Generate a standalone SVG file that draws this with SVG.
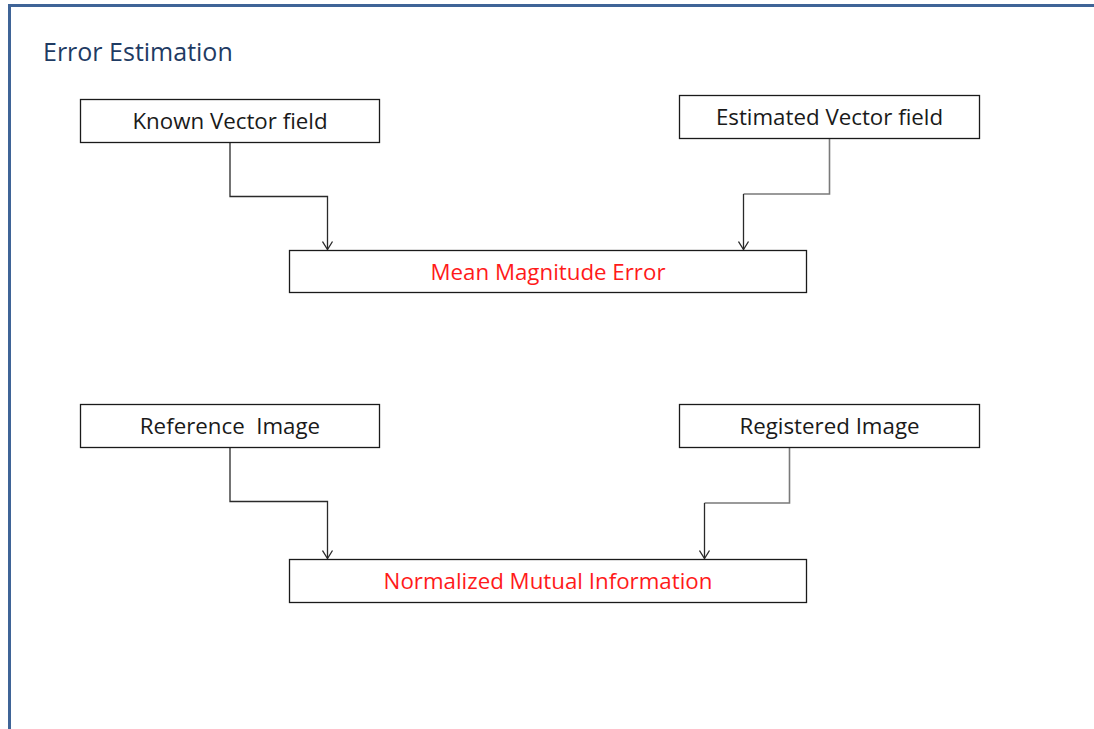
<svg xmlns="http://www.w3.org/2000/svg" width="1094" height="729" viewBox="0 0 1094 729">
  <style>
    .box { fill: #ffffff; stroke: #1a1a1a; stroke-width: 1.3; }
    .lbl { font-family: "Open Sans", "Liberation Sans", sans-serif; font-size: 22.3px; fill: #1a1a1a; text-anchor: middle; }
    .red { fill: #ff1a1a; }
    .wire { fill: none; stroke: #2a2a2a; stroke-width: 1.3; }
    .wire-g { fill: none; stroke: #7a7a7a; stroke-width: 1.6; }
  </style>
  <defs>
    <!-- open V arrowhead, drawn pointing along +x -->
    <marker id="arr" markerWidth="12" markerHeight="12" refX="10" refY="6" orient="auto" markerUnits="userSpaceOnUse" viewBox="0 0 12 12">
      <path d="M2,1 L10,6 L2,11" fill="none" stroke="#2a2a2a" stroke-width="1.3"/>
    </marker>
  </defs>
  <rect width="1094" height="729" fill="#ffffff"/>

  <!-- frame -->
  <path d="M9.5,729 L9.5,5.5 L1094,5.5" fill="none" stroke="#3f6497" stroke-width="3"/>
  <text x="43" y="61" font-family="'Open Sans', 'Liberation Sans', sans-serif" font-size="25" fill="#1f3b63">Error Estimation</text>

  <!-- connectors -->
  <g id="connectors">
    <path class="wire" d="M230,142 V196.5 H327.5 V249.5" marker-end="url(#arr)"/>
    <path class="wire-g" d="M829.5,138 V194 H743.5"/>
    <path class="wire" d="M743.5,194 V249.5" marker-end="url(#arr)"/>
    <path class="wire" d="M230,447 V501.5 H327.5 V558.5" marker-end="url(#arr)"/>
    <path class="wire-g" d="M789.5,447 V503 H704.5"/>
    <path class="wire" d="M704.5,503 V558.5" marker-end="url(#arr)"/>
  </g>

  <g id="known-vector-field">
    <rect class="box" x="80.5" y="99.5" width="299" height="43"/>
    <text class="lbl" x="230" y="128.5">Known Vector field</text>
  </g>
  <g id="estimated-vector-field">
    <rect class="box" x="679.5" y="95.5" width="300" height="43"/>
    <text class="lbl" x="829.5" y="124.5">Estimated Vector field</text>
  </g>
  <g id="mean-magnitude-error">
    <rect class="box" x="289.5" y="250.5" width="517" height="42"/>
    <text class="lbl red" x="548" y="279.5">Mean Magnitude Error</text>
  </g>
  <g id="reference-image">
    <rect class="box" x="80.5" y="404.5" width="299" height="43"/>
    <text class="lbl" x="230" y="433.5" xml:space="preserve">Reference  Image</text>
  </g>
  <g id="registered-image">
    <rect class="box" x="679.5" y="404.5" width="300" height="43"/>
    <text class="lbl" x="829.5" y="433.5">Registered Image</text>
  </g>
  <g id="normalized-mutual-information">
    <rect class="box" x="289.5" y="559.5" width="517" height="43"/>
    <text class="lbl red" x="548" y="588.5">Normalized Mutual Information</text>
  </g>
</svg>
